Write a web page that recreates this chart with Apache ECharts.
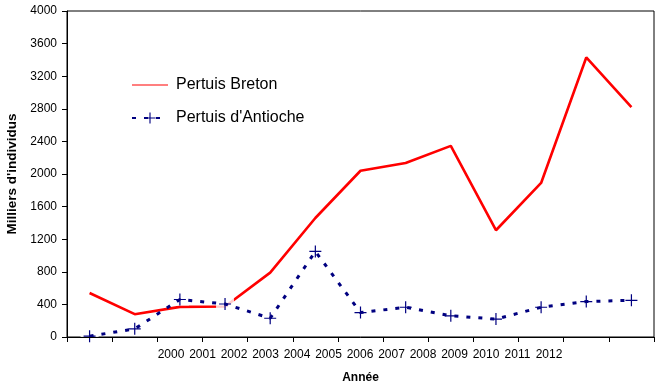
<!DOCTYPE html>
<html>
<head>
<meta charset="utf-8">
<script src="https://cdn.jsdelivr.net/npm/echarts@6/dist/echarts.min.js"></script>
<style>
html,body{margin:0;padding:0;background:#fff;}
#chart{width:660px;height:385px;}
</style>
</head>
<body>
<div id="chart"></div>
<script>
var years = ['2000','2001','2002','2003','2004','2005','2006','2007','2008','2009','2010','2011','2012'];
var breton = [540, 280, 370, 375, 790, 1460, 2040, 2135, 2345, 1310, 1890, 3430, 2820];
var antioche = [10, 100, 460, 405, 230, 1050, 300, 365, 260, 220, 365, 435, 450];
var yTicks = {min: 0, max: 4000, interval: 400};

var FONT = 'Liberation Sans, Arial, sans-serif';
var plus = 'path://M0,5.4H12V6.6H0Z M5.4,0H6.6V12H5.4Z';
var thinLine = 'path://M0,0L0.01,0L0,0.01Z M0,6.4H36V7.6H0Z M36,14L35.99,14L36,13.99Z';

var chart = echarts.init(document.getElementById('chart'), null, {renderer: 'canvas'});
chart.setOption({
  backgroundColor: '#ffffff',
  animation: false,
  textStyle: {fontFamily: FONT},
  grid: [
    {left: 67, right: 6, top: 11, bottom: 48, show: true, borderColor: '#000', borderWidth: 1,
     backgroundColor: 'transparent', containLabel: false, outerBoundsMode: 'none'},
    {left: 155.25, width: 409.5, top: 11, bottom: 48, show: false, containLabel: false, outerBoundsMode: 'none'}
  ],
  legend: {
    data: [{name: 'Pertuis Breton', icon: thinLine, itemStyle: {color: '#ff0000'}}, {name: "Pertuis d'Antioche"}],
    orient: 'vertical',
    left: 126,
    top: 71,
    itemWidth: 36,
    itemHeight: 14,
    itemGap: 15,
    textStyle: {fontFamily: FONT, fontSize: 16, color: '#000', padding: [0, 0, 0, 3], lineHeight: 18}
  },
  xAxis: [
    {
      gridIndex: 0, type: 'category', data: years, boundaryGap: true, z: 5,
      axisLine: {lineStyle: {color: '#000', width: 1}},
      axisTick: {show: true, length: 5, inside: false, lineStyle: {color: '#000'}},
      axisLabel: {show: false},
      splitLine: {show: false},
      name: 'Année', nameLocation: 'middle', nameGap: 35,
      nameTextStyle: {fontFamily: FONT, fontSize: 12, fontWeight: 'bold', color: '#000'}
    },
    {
      gridIndex: 1, type: 'category', data: years, boundaryGap: true,
      axisLine: {show: false}, axisTick: {show: false}, splitLine: {show: false},
      axisLabel: {show: true, interval: 0, margin: 12, fontFamily: FONT, fontSize: 12, color: '#000'}
    }
  ],
  yAxis: [
    {
      gridIndex: 0, type: 'value', min: yTicks.min, max: yTicks.max, interval: yTicks.interval,
      axisLine: {show: true, lineStyle: {color: '#000', width: 1}},
      axisTick: {show: true, length: 5, inside: false, lineStyle: {color: '#000'}},
      axisLabel: {margin: 10, fontFamily: FONT, fontSize: 12, color: '#000',
                  formatter: function (v) { return String(v); }},
      splitLine: {show: false},
      name: "Milliers d'individus", nameLocation: 'middle', nameGap: 48,
      nameTextStyle: {fontFamily: FONT, fontSize: 13.5, fontWeight: 'bold', color: '#000'}
    },
    {gridIndex: 1, type: 'value', show: false, min: 0, max: 4000}
  ],
  series: [
    {
      name: 'Pertuis Breton', type: 'line', xAxisIndex: 0, yAxisIndex: 0, data: breton, z: 2,
      showSymbol: false, symbol: 'none',
      lineStyle: {color: '#ff0000', width: 2.6},
      itemStyle: {color: '#ff0000'}
    },
    {
      name: 'bg', type: 'scatter', xAxisIndex: 0, yAxisIndex: 0, data: antioche, z: 3, silent: true,
      symbol: 'rect', symbolSize: [18, 12], itemStyle: {color: '#ffffff'}
    },
    {
      name: "Pertuis d'Antioche", type: 'line', xAxisIndex: 0, yAxisIndex: 0, data: antioche, z: 4,
      symbol: plus, symbolSize: 12, showSymbol: true,
      lineStyle: {color: '#000080', width: 3, type: [4, 8], cap: 'butt'},
      itemStyle: {color: '#000080'}
    }
  ]
});
</script>
</body>
</html>
